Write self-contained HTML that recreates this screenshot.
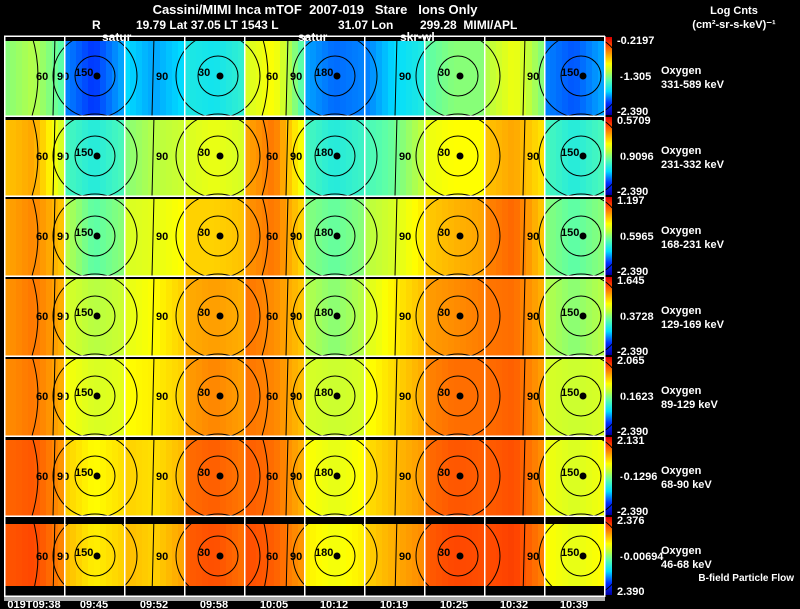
<!DOCTYPE html>
<html><head><meta charset="utf-8">
<style>
html,body{margin:0;padding:0;background:#000;}
svg{display:block;font-family:"Liberation Sans",sans-serif;font-weight:bold;}
text{white-space:pre;}
</style></head>
<body>
<svg id="chart" width="800" height="609" viewBox="0 0 800 609" xmlns="http://www.w3.org/2000/svg">
<rect x="0" y="0" width="800" height="609" fill="#000"/>
<text x="315" y="14" fill="#fff" font-size="13" text-anchor="middle">Cassini/MIMI Inca mTOF  2007-019   Stare   Ions Only</text>
<text x="92" y="29" fill="#fff" font-size="12">R</text>
<text x="136" y="29" fill="#fff" font-size="12">19.79 Lat 37.05 LT 1543 L</text>
<text x="338" y="29" fill="#fff" font-size="12">31.07 Lon</text>
<text x="420" y="29" fill="#fff" font-size="12">299.28  MIMI/APL</text>
<text x="734" y="14" fill="#fff" font-size="11" text-anchor="middle">Log Cnts</text>
<text x="734" y="28" fill="#fff" font-size="11" text-anchor="middle">(cm²-sr-s-keV)⁻¹</text>
<g id="panels"></g>
<g id="overlay"></g>
<text x="102" y="41" fill="#fff" font-size="12">satur</text>
<text x="298" y="41" fill="#fff" font-size="12">satur</text>
<text x="400" y="41" fill="#fff" font-size="12">skr-wl</text>
<rect x="4" y="597" width="601" height="4" fill="#aaa"/>
<text x="794" y="581" fill="#fff" font-size="10" text-anchor="end">B-field Particle Flow</text>
</svg>
<script>
const energyLabels = ["331-589 keV","231-332 keV","168-231 keV","129-169 keV","89-129 keV","68-90 keV","46-68 keV"];
const cbTop = ["-0.2197","0.5709","1.197","1.645","2.065","2.131","2.376"];
const cbMid = ["-1.305","0.9096","0.5965","0.3728","0.1623","-0.1296","-0.00694"];
const cbBot = ["-2.390","-2.390","-2.390","-2.390","-2.390","-2.390","2.390"];
const timeLabels = ["019T09:38","09:45","09:52","09:58","10:05","10:12","10:19","10:25","10:32","10:39"];
// normalized intensity (0=blue,1=red) per row, per column: [left, middle, right]
const row0 = [[0.5,0.55,0.45],[0.22,0.15,0.25],[0.3,0.25,0.3],[0.35,0.33,0.38],[0.6,0.66,0.45],[0.25,0.2,0.22],[0.22,0.3,0.35],[0.45,0.5,0.5],[0.55,0.64,0.5],[0.22,0.18,0.25]];
const row1 = [[0.74,0.78,0.6],[0.42,0.36,0.42],[0.5,0.55,0.58],[0.6,0.63,0.6],[0.78,0.84,0.65],[0.42,0.36,0.4],[0.42,0.47,0.56],[0.63,0.66,0.66],[0.74,0.78,0.7],[0.42,0.36,0.42]];
const row2 = [[0.78,0.82,0.74],[0.55,0.45,0.5],[0.6,0.62,0.66],[0.72,0.72,0.74],[0.8,0.84,0.72],[0.5,0.46,0.5],[0.55,0.6,0.68],[0.73,0.76,0.78],[0.82,0.86,0.74],[0.5,0.45,0.5]];
const row3 = [[0.8,0.84,0.77],[0.6,0.55,0.58],[0.62,0.66,0.72],[0.77,0.79,0.77],[0.84,0.81,0.74],[0.55,0.5,0.55],[0.6,0.68,0.74],[0.79,0.81,0.83],[0.84,0.85,0.77],[0.55,0.5,0.55]];
const row4 = [[0.81,0.84,0.77],[0.65,0.6,0.62],[0.66,0.68,0.72],[0.79,0.82,0.79],[0.84,0.82,0.75],[0.6,0.58,0.6],[0.65,0.71,0.77],[0.82,0.85,0.85],[0.85,0.87,0.79],[0.6,0.58,0.6]];
const row5 = [[0.86,0.88,0.8],[0.72,0.66,0.7],[0.72,0.7,0.75],[0.85,0.87,0.84],[0.87,0.85,0.77],[0.66,0.62,0.66],[0.7,0.75,0.79],[0.85,0.88,0.87],[0.87,0.89,0.81],[0.64,0.6,0.64]];
const row6 = [[0.88,0.9,0.82],[0.75,0.68,0.72],[0.75,0.72,0.78],[0.87,0.89,0.85],[0.89,0.87,0.8],[0.68,0.64,0.68],[0.72,0.77,0.81],[0.87,0.9,0.89],[0.89,0.91,0.83],[0.66,0.62,0.66]];
const rows = [row0,row1,row2,row3,row4,row5,row6];
const topGap = [5,4,3,3,3,4,8];
const botGap = [0,0,0,0,0,0,10];

const NS="http://www.w3.org/2000/svg";
const X0=4, COLW=60, Y0=36, ROWH=80, CELL=6;
function xCol(c){return X0+c*COLW;}
function yRow(r){return Y0+r*ROWH;}
const stops=[[0,[0,0,170]],[0.15,[0,50,255]],[0.3,[0,220,255]],[0.45,[90,255,170]],[0.56,[190,255,60]],[0.66,[255,255,0]],[0.78,[255,165,0]],[0.9,[255,70,0]],[1,[220,0,0]]];
function cmap(v){v=Math.max(0,Math.min(1,v));for(let i=1;i<stops.length;i++){if(v<=stops[i][0]){const a=stops[i-1],b=stops[i];const t=(v-a[0])/(b[0]-a[0]);return 'rgb('+a[1].map((x,k)=>Math.round(x+(b[1][k]-x)*t)).join(',')+')';}}return 'rgb(220,0,0)';}
function mk(tag,attrs,parent){const e=document.createElementNS(NS,tag);for(const k in attrs)e.setAttribute(k,attrs[k]);parent.appendChild(e);return e;}
const panels=document.getElementById('panels');
const overlay=document.getElementById('overlay');

rows.forEach((row,r)=>{
  const g=mk('g',{},panels);
  
  
  const y=yRow(r);
  const yTop=y+topGap[r], yBot=y+ROWH-botGap[r];
  row.forEach((vals,c)=>{
    const x=xCol(c);
    for(let cy=yTop;cy<yBot;cy+=CELL){
      const h=Math.min(CELL,yBot-cy);
      for(let i=0;i<10;i++){
        const t=i/9;
        const v=t<0.5?vals[0]+(vals[1]-vals[0])*t*2:vals[1]+(vals[2]-vals[1])*(t-0.5)*2;
        const cell=mk('rect',{x:x+i*CELL,y:cy,width:CELL,height:h,fill:cmap(v)},g);
        
        
      }
    }
  });
  const cb=mk('g',{},panels);
  
  
  for(let k=0;k<ROWH-2;k++){mk('rect',{x:605,y:y+1+k,width:7,height:1,fill:cmap(1-k/(ROWH-3))},cb);}
  const t1=mk('text',{x:617,y:y+8,fill:'#fff','font-size':11},panels);t1.textContent=cbTop[r];
  
  
  const t2=mk('text',{x:620,y:y+44,fill:'#fff','font-size':11},panels);t2.textContent=cbMid[r];
  
  
  const t3=mk('text',{x:617,y:y+79,fill:'#fff','font-size':11},panels);t3.textContent=cbBot[r];
  
  
  const o1=mk('text',{x:661,y:y+38,fill:'#fff','font-size':11},panels);o1.textContent='Oxygen';
  
  
  const o2=mk('text',{x:661,y:y+52,fill:'#fff','font-size':11},panels);o2.textContent=energyLabels[r];
  
  
  const cyc=y+40;
  [[1,99,150],[3,222,30],[5,339,180],[7,462,30],[9,585,150]].forEach(([c,cx,l1])=>{
    mk('circle',{cx:cx-4,cy:cyc,r:20,fill:'none',stroke:'#000','stroke-width':1},overlay);
    mk('circle',{cx:cx-4,cy:cyc,r:42,fill:'none',stroke:'#000','stroke-width':1},overlay);
    mk('circle',{cx:cx-2,cy:cyc,r:3.5,fill:'#000'},overlay);
    const lt=mk('text',{x:cx-24,y:cyc,fill:'#000','font-size':11},overlay);lt.textContent=l1;
  });
  [[40,'60'],[270,'60']].forEach(([lx,lab])=>{
    mk('path',{d:'M'+(lx-8)+' '+y+' Q'+(lx+4)+' '+(y+40)+' '+(lx-8)+' '+(y+ROWH),fill:'none',stroke:'#000'},overlay);
    const lt=mk('text',{x:lx-4,y:y+44,fill:'#000','font-size':11},overlay);lt.textContent=lab;
  });
  [[55,'90'],[154,'90'],[288,'90'],[397,'90'],[525,'90']].forEach(([lx,lab])=>{
    mk('path',{d:'M'+lx+' '+y+' L'+(lx-2)+' '+(y+ROWH),fill:'none',stroke:'#000'},overlay);
    const lt=mk('text',{x:lx+2,y:y+44,fill:'#000','font-size':11},overlay);lt.textContent=lab;
  });
});
for(let c=0;c<=10;c++){const l=mk('rect',{x:xCol(c),y:Y0,width:1.5,height:ROWH*7+1,fill:'#fff'},overlay);
  
  }
for(let r=0;r<=7;r++){const l=mk('rect',{x:X0,y:yRow(r)-0.5,width:601,height:1.5,fill:'#fff'},overlay);
  
  }
timeLabels.forEach((lab,c)=>{
  const t=mk('text',{x:xCol(c)+30,y:608,fill:'#fff','font-size':11,'text-anchor':'middle'},overlay);
  t.textContent=lab;
  
  
});
</script>
</body></html>
